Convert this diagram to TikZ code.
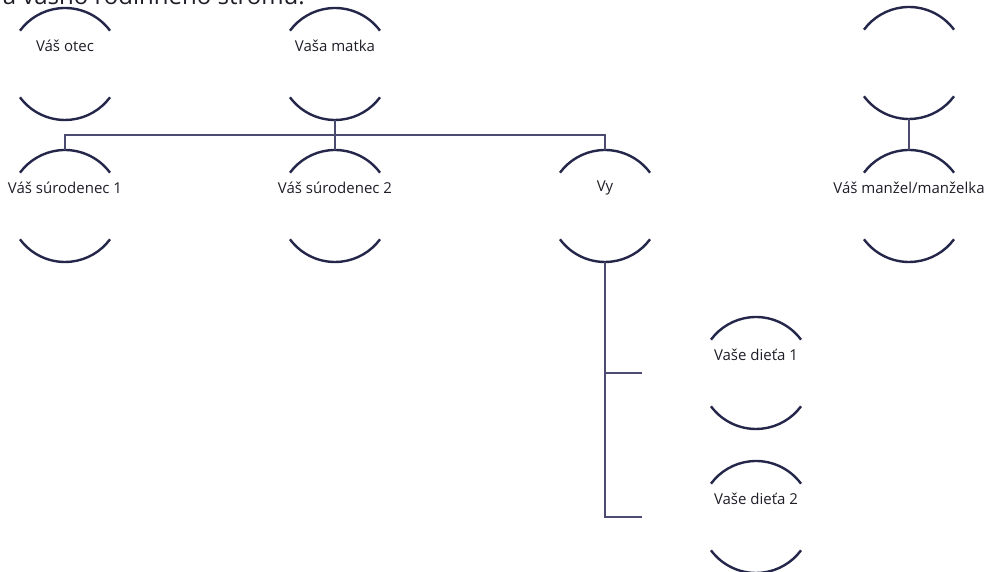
\documentclass[tikz,border=0pt]{standalone}
\usepackage{fontspec}
\setmainfont{Open Sans}
\usetikzlibrary{calc}
\definecolor{arcc}{HTML}{24264A}
\definecolor{linec}{HTML}{4A4B6E}
\definecolor{txtc}{HTML}{1E1E28}
\tikzset{
  pnode/.style={circle, minimum size=112pt, inner sep=0pt, draw=none},
  ptext/.style={font=\fontsize{15}{17}\selectfont, text=txtc, inner sep=0pt},
  arcline/.style={draw=arcc, line width=2.4pt},
  conn/.style={draw=linec, line width=1.3pt},
}
\newcommand{\person}[4]{%
  \node[pnode] (#1) at (#2,#3) {};
  \draw[arcline] ([shift={(36.5:56)}]#1.center) arc[start angle=36.5,end angle=143.5,radius=56];
  \draw[arcline] ([shift={(216.5:56)}]#1.center) arc[start angle=216.5,end angle=323.5,radius=56];
  \node[ptext] (#1-t) at ($(#1.center)+(0,18)$) {#4};
}
\begin{document}
\begin{tikzpicture}[x=1pt,y=1pt]
\useasboundingbox (0,0) rectangle (986,572);
\clip (0,0) rectangle (986,572);
\node[font=\fontsize{24}{28}\selectfont, text=txtc, inner sep=0pt, anchor=base east] (title) at (305,567.5) {a vášho rodinného stromu.};
\person{otec}{65}{508}{Váš otec}
\person{matka}{335}{508}{Vaša matka}
\person{sp0}{909}{509}{}
\person{sib1}{65}{366}{Váš súrodenec 1}
\person{sib2}{335}{366}{Váš súrodenec 2}
\person{vy}{605}{366}{Vy}
\person{spouse}{909}{366}{Váš manžel/manželka}
\person{ch1}{756}{199}{Vaše dieťa 1}
\person{ch2}{756}{55}{Vaše dieťa 2}
\coordinate (bus) at (335,437);
\coordinate (b1) at ($(ch1.west)+(-58,0)$);
\coordinate (b2) at ($(ch2.west)+(-58,0)$);
\draw[conn] (matka.south) -- (sib2.north);
\draw[conn] (sib1.north) |- (bus) -| (vy.north);
\draw[conn] (sp0.south) -- (spouse.north);
\draw[conn] (vy.south) |- (b2);
\draw[conn] (b1 -| vy.south) -- (b1);
\end{tikzpicture}
\end{document}
